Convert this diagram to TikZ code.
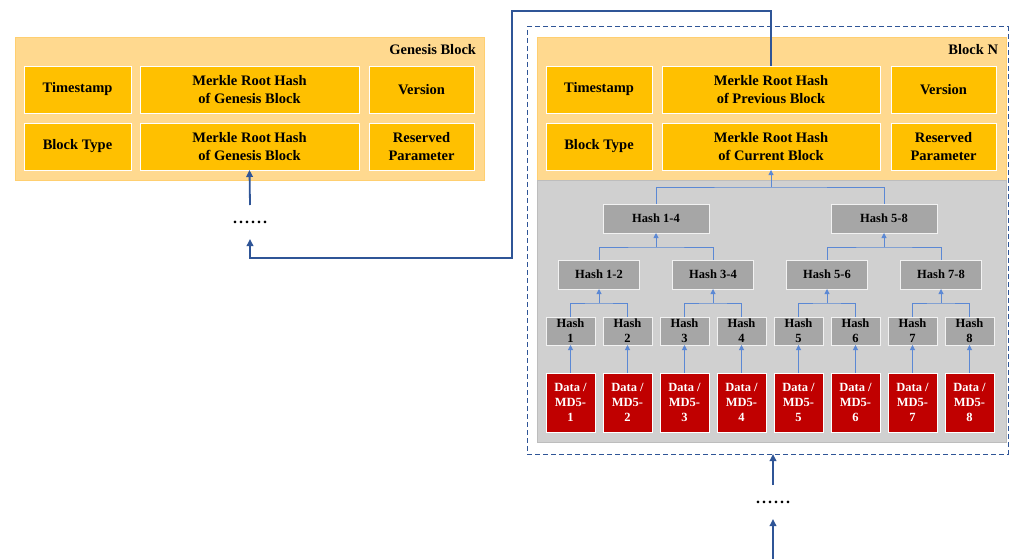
\documentclass[tikz,border=0pt]{standalone}
\usepackage{fontspec}
\setmainfont{Liberation Serif}
\usetikzlibrary{arrows.meta}
\definecolor{olight}{HTML}{FFD98F}
\definecolor{oborder}{HTML}{FFCF70}
\definecolor{ocell}{HTML}{FFC000}
\definecolor{garea}{HTML}{D0D0D0}
\definecolor{gborder}{HTML}{BDBDBD}
\definecolor{hcell}{HTML}{A6A6A6}
\definecolor{dred}{HTML}{C00000}
\definecolor{bigblue}{HTML}{2F5597}
\definecolor{treeblue}{HTML}{5B88D4}
\begin{document}
\begin{tikzpicture}[x=1pt,y=-1pt,
  base/.style={rectangle,inner sep=0pt,outer sep=0pt,align=center,font=\bfseries},
  outerbox/.style={base,fill=olight,draw=oborder,line width=0.8pt,minimum width=469pt,minimum height=143pt},
  cell/.style={base,fill=ocell,draw=white,line width=0.8pt,minimum height=47pt,font=\bfseries\fontsize{14.5}{18}\selectfont},
  title/.style={base,anchor=east,font=\bfseries\fontsize{14.5}{18}\selectfont},
  grayarea/.style={base,fill=garea,draw=gborder,line width=0.8pt,minimum width=469pt,minimum height=262pt},
  hnode/.style={base,fill=hcell,draw=white!90!gray,line width=0.8pt,font=\bfseries\fontsize{12.5}{15}\selectfont},
  leaf/.style={hnode,minimum width=49pt,minimum height=28pt},
  mid/.style={hnode,minimum width=81pt,minimum height=29pt},
  top/.style={hnode,minimum width=106pt,minimum height=29pt},
  data/.style={base,fill=dred,draw=white,line width=0.8pt,text=white,minimum width=49pt,minimum height=59pt,font=\bfseries\fontsize{12.5}{15}\selectfont},
  dots/.style={base,minimum height=34pt,font=\bfseries\fontsize{16}{18}\selectfont},
  big/.style={draw=bigblue,line width=1.8pt},
  bigarr/.style={big,-{Triangle[length=7pt,width=6.5pt]}},
  tl/.style={draw=treeblue,line width=0.9pt},
  ta/.style={tl,-{Triangle[length=5pt,width=5pt]}},
  dashbox/.style={base,draw=bigblue,line width=1pt,dash pattern=on 5pt off 3pt,minimum width=481pt,minimum height=427pt}
]
\useasboundingbox (0,0) rectangle (1014,559);

% ---------- Genesis block ----------
\node[outerbox] (gen) at (249.5,108.5) {};
\node[title] (gtitle) at (476,50) {Genesis Block};
\node[cell,minimum width=107pt] (gts) at (77.5,89.5) {Timestamp};
\node[cell,minimum width=219pt] (gm1) at (249.5,89.5) {Merkle Root Hash\\of Genesis Block};
\node[cell,minimum width=105pt] (gver) at (421.5,89.5) {Version};
\node[cell,minimum width=107pt] (gbt) at (77.5,146.5) {Block Type};
\node[cell,minimum width=219pt] (gm2) at (249.5,146.5) {Merkle Root Hash\\of Genesis Block};
\node[cell,minimum width=105pt] (grp) at (421.5,146.5) {Reserved\\Parameter};

\node[dots] (gdots) at (250,222) {.\kern2pt.\kern2pt.\kern2pt.\kern2pt.\kern2pt.};

% ---------- Block N ----------
\node[dashbox] (nbox) at (767.5,240.5) {};
\node[outerbox] (nblk) at (771.5,108.5) {};
\node[grayarea] (ngray) at (771.5,311) {};
\node[title] (ntitle) at (998,50) {Block N};
\node[cell,minimum width=106pt] (nts) at (599,89.5) {Timestamp};
\node[cell,minimum width=218pt] (nmp) at (771,89.5) {Merkle Root Hash\\of Previous Block};
\node[cell,minimum width=105pt] (nver) at (943.5,89.5) {Version};
\node[cell,minimum width=106pt] (nbt) at (599,146.5) {Block Type};
\node[cell,minimum width=218pt] (nmc) at (771,146.5) {Merkle Root Hash\\of Current Block};
\node[cell,minimum width=105pt] (nrp) at (943.5,146.5) {Reserved\\Parameter};

% Merkle tree
\node[top] (h14) at (656,218.5) {Hash 1-4};
\node[top] (h58) at (884,218.5) {Hash 5-8};
\node[mid] (h12) at (599,274.5) {Hash 1-2};
\node[mid] (h34) at (713,274.5) {Hash 3-4};
\node[mid] (h56) at (827,274.5) {Hash 5-6};
\node[mid] (h78) at (941,274.5) {Hash 7-8};
\foreach \i in {1,...,8}{
  \pgfmathsetmacro{\xx}{570.5+57*(\i-1)}
  \node[leaf] (h\i) at (\xx,331) {Hash\\\i};
  \node[data] (d\i) at (\xx,402.5) {Data /\\MD5-\\\i};
  \draw[ta] (d\i.north) -- (h\i.south);
}
% level 3 -> 2
\coordinate (m12) at (599,303);
\coordinate (m34) at (713,303);
\coordinate (m56) at (827,303);
\coordinate (m78) at (941,303);
\draw[tl] (h1.north) |- (m12) -| (h2.north);
\draw[tl] (h3.north) |- (m34) -| (h4.north);
\draw[tl] (h5.north) |- (m56) -| (h6.north);
\draw[tl] (h7.north) |- (m78) -| (h8.north);
\draw[ta] (m12) -- (h12.south);
\draw[ta] (m34) -- (h34.south);
\draw[ta] (m56) -- (h56.south);
\draw[ta] (m78) -- (h78.south);
% level 2 -> 1
\coordinate (m14) at (656,247);
\coordinate (m58) at (884,247);
\draw[tl] (h12.north) |- (m14) -| (h34.north);
\draw[tl] (h56.north) |- (m58) -| (h78.north);
\draw[ta] (m14) -- (h14.south);
\draw[ta] (m58) -- (h58.south);
% level 1 -> root
\coordinate (mroot) at (771,187);
\draw[tl] (h14.north) |- (mroot) -| (h58.north);
\draw[ta] (mroot) -- (nmc.south);

% ---------- chain connectors ----------
\draw[bigarr] (gdots.north) -- (gm2.south);
\coordinate (ctop) at (771,11);
\coordinate (cleft) at (512,258);
\draw[bigarr] (nmp.north) -- (ctop) -| (cleft) -| (gdots.south);

\node[dots] (bdots) at (773,502) {.\kern2pt.\kern2pt.\kern2pt.\kern2pt.\kern2pt.};
\coordinate (bend) at (773,559);
\draw[bigarr] (bdots.north) -- (bdots.north |- nbox.south);
\draw[bigarr] (bend) -- (bdots.south);
\end{tikzpicture}
\end{document}
